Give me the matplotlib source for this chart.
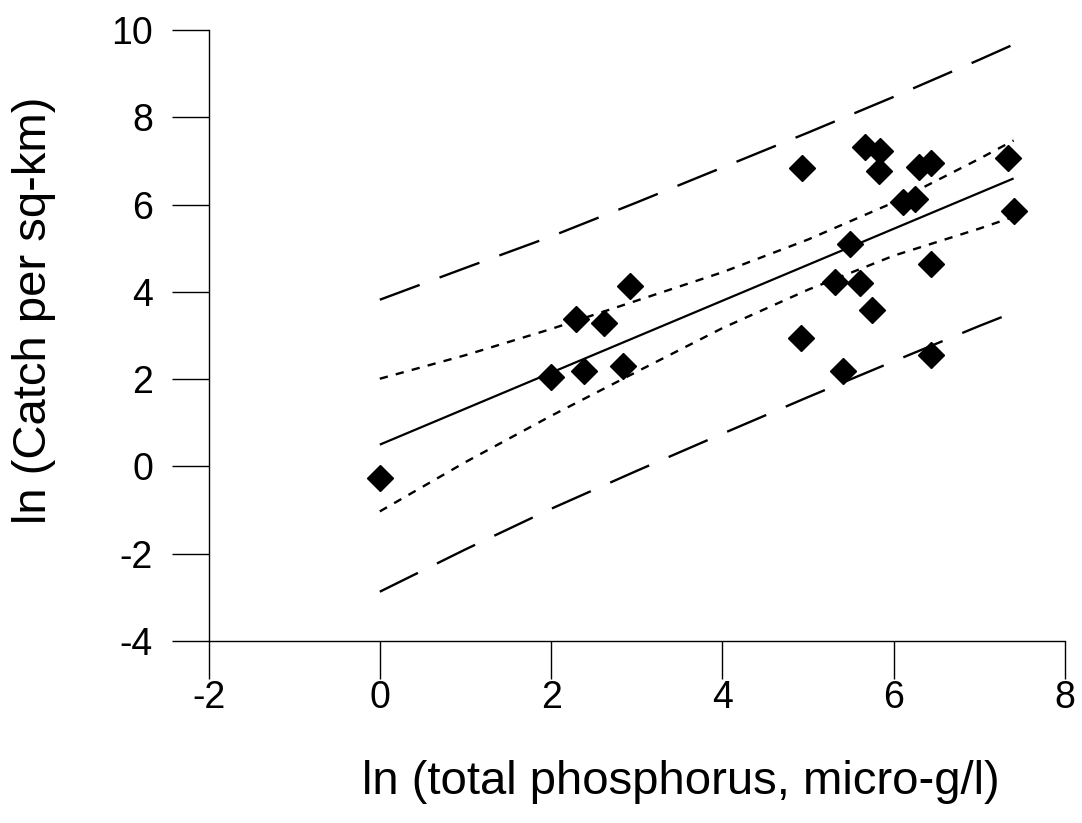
import matplotlib
matplotlib.use("Agg")
from matplotlib import pyplot as plt

# observed lakes: ln(total phosphorus) vs ln(catch per sq-km)
phos = [0.0, 2.0, 2.29, 2.38, 2.62, 2.84, 2.92,
        4.93, 5.67, 5.84, 5.83, 6.29, 6.43, 6.11, 6.25, 7.34, 7.41,
        5.49, 5.32, 5.61, 6.43, 5.75, 4.92, 5.41, 6.43]
catch = [-0.27, 2.05, 3.39, 2.18, 3.29, 2.31, 4.14,
         6.83, 7.32, 7.22, 6.78, 6.86, 6.96, 6.06, 6.13, 7.07, 5.85,
         5.10, 4.22, 4.20, 4.63, 3.58, 2.94, 2.18, 2.56]

# fitted line
fit_x = [0.0, 7.40]
fit_y = [0.50, 6.60]

# confidence band (short dash)
band_x = [0.0, 1.0, 2.0, 3.0, 4.0, 5.0, 6.0, 7.0, 7.40]
conf_hi = [2.01, 2.55, 3.15, 3.80, 4.45, 5.20, 6.05, 7.05, 7.47]
conf_lo = [-1.03, 0.10, 1.16, 2.17, 3.17, 4.05, 4.83, 5.45, 5.72]

# prediction band (long dash)
pred_hi = [3.82, 4.55, 5.27, 6.05, 6.85, 7.65, 8.47, 9.32, 9.67]
pred_lo = [-2.87, -1.90, -0.97, -0.10, 0.75, 1.59, 2.41, 3.22, 3.53]

xticks = [-2, 0, 2, 4, 6, 8]
yticks = [-4, -2, 0, 2, 4, 6, 8, 10]

fig = plt.figure(figsize=(10.82, 8.23), dpi=100)
ax = fig.add_axes([0.1927, 0.2211, 0.7916, 0.7424])

ax.plot(fit_x, fit_y, color="black", lw=1.6, solid_capstyle="butt")
ax.plot(band_x, conf_hi, color="black", lw=1.7, dashes=(3.5, 3.5))
ax.plot(band_x, conf_lo, color="black", lw=1.7, dashes=(3.5, 3.5))
ax.plot(band_x, pred_hi, color="black", lw=1.7, dashes=(18, 9))
ax.plot(band_x, pred_lo, color="black", lw=1.7, dashes=(18, 9))
ax.plot(phos, catch, linestyle="none", marker="D", markersize=13.5,
        color="black", zorder=3, clip_on=False)

ax.set_xlim(-2, 8)
ax.set_ylim(-4, 10)
ax.set_xticks(xticks)
ax.set_yticks(yticks)
ax.set_xticklabels([str(v) for v in xticks])
ax.set_yticklabels([str(v) for v in yticks])

for side in ["top", "right"]:
    ax.spines[side].set_visible(False)
for side in ["left", "bottom"]:
    ax.spines[side].set_linewidth(1.0)

for lab in ax.get_xticklabels() + ax.get_yticklabels():
    lab.set_fontfamily(["Liberation Sans", "DejaVu Sans"])
    lab.set_fontsize(27)
ax.tick_params(axis="both", direction="out", length=27, width=1.0)
ax.tick_params(axis="x", pad=1)
ax.tick_params(axis="y", pad=13)

label_family = ["Liberation Sans Narrow", "Liberation Sans", "DejaVu Sans"]
fig.text(0.629, 0.050, "ln (total phosphorus, micro-g/l)", ha="center",
         va="center", fontsize=34, family=label_family)
fig.text(0.031, 0.623, "ln (Catch per sq-km)", ha="center", va="center",
         rotation=90, fontsize=34, family=label_family)

fig.savefig("out.png", dpi=100)
